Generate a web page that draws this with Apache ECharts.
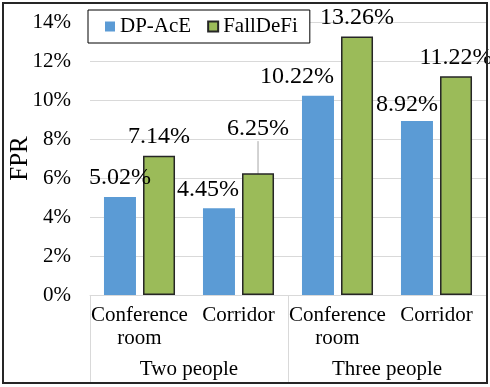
<!DOCTYPE html>
<html>
<head>
<meta charset="utf-8">
<script src="https://cdn.jsdelivr.net/npm/echarts@6/dist/echarts.min.js"></script>
<style>
  html, body { margin: 0; padding: 0; background: #fff; }
  #chartBar { width: 490px; height: 387px; }
</style>
</head>
<body>
<div id="chartBar"></div>
<script>
const categories = ['Conference\nroom', 'Corridor', 'Conference\nroom', 'Corridor']
const groups = ['Two people', 'Three people']
const dpAce = [5.02, 4.45, 10.22, 8.92]
const fallDeFi = [7.14, 6.25, 13.26, 11.22]

const font = "'Liberation Serif', 'Times New Roman', 'DejaVu Serif', serif"
const pct = (p) => p.value.toFixed(2) + '%'

const chart = echarts.init(document.getElementById('chartBar'))

// label nudges, like the hand-moved labels in the original
const dpShift = [[0, 0], [-11, 0], [-21, 0], [-10, 3]]
const fdShift = [[0, 0], [0, 0], [0, 3], [-13, 0]]

const option = {
  animation: false,
  textStyle: { fontFamily: font, color: '#000' },
  graphic: [
    {
      type: 'rect',
      shape: { x: 3, y: 3, width: 484, height: 380 },
      style: { fill: 'none', stroke: '#262626', lineWidth: 2 },
      z: 100
    }
  ],
  legend: {
    data: ['DP-AcE', 'FallDeFi'],
    left: 88,
    top: 10,
    padding: [6, 12, 6, 17],
    icon: 'rect',
    itemWidth: 10,
    itemHeight: 10,
    itemGap: 16,
    backgroundColor: '#fff',
    borderColor: '#000',
    borderWidth: 1,
    textStyle: { fontFamily: font, fontSize: 21, color: '#000' }
  },
  grid: {
    left: 90,
    right: 4,
    top: 22,
    bottom: 92,
    outerBoundsMode: 'none'
  },
  xAxis: [
    {
      type: 'category',
      data: categories,
      axisLine: { lineStyle: { color: '#d9d9d9' } },
      axisTick: { show: false },
      axisLabel: {
        interval: 0,
        margin: 9,
        fontFamily: font,
        fontSize: 21,
        lineHeight: 23,
        color: '#000'
      }
    },
    {
      type: 'category',
      position: 'bottom',
      data: groups,
      axisLine: { show: false },
      axisTick: {
        show: true,
        inside: false,
        length: 88,
        lineStyle: { color: '#d9d9d9' }
      },
      axisLabel: {
        interval: 0,
        margin: 64,
        fontFamily: font,
        fontSize: 21,
        color: '#000'
      }
    }
  ],
  yAxis: {
    type: 'value',
    min: 0,
    max: 14,
    interval: 2,
    name: 'FPR',
    nameLocation: 'middle',
    nameGap: 57,
    nameMoveOverlap: false,
    nameTextStyle: { fontFamily: font, fontSize: 25, color: '#000' },
    axisLine: { show: false },
    axisTick: { show: false },
    splitLine: { lineStyle: { color: '#d9d9d9' } },
    axisLabel: {
      margin: 19,
      fontFamily: font,
      fontSize: 21,
      color: '#000',
      formatter: '{value}%'
    }
  },
  series: [
    {
      name: 'DP-AcE',
      type: 'bar',
      barWidth: 32,
      barGap: '22%',
      itemStyle: { color: '#5b9bd5' },
      label: {
        show: true,
        position: 'top',
        distance: 7,
        fontFamily: font,
        fontSize: 24,
        color: '#000',
        formatter: pct
      },
      data: dpAce.map((v, i) => ({ value: v, label: { offset: dpShift[i] } }))
    },
    {
      name: 'FallDeFi',
      type: 'bar',
      barWidth: 32,
      itemStyle: { color: '#9bbb59', borderColor: '#262626', borderWidth: 1.5 },
      label: {
        show: true,
        position: 'top',
        distance: 7,
        fontFamily: font,
        fontSize: 24,
        color: '#000',
        formatter: pct
      },
      labelLine: { show: false },
      labelLayout: (p) => (p.dataIndex === 1 ? { dy: -25 } : {}),
      data: fallDeFi.map((v, i) =>
        i === 1
          ? { value: v, labelLine: { show: true, lineStyle: { color: '#a6a6a6', width: 1 } } }
          : { value: v, label: { offset: fdShift[i] } }
      )
    }
  ]
}

chart.setOption(option)
</script>
</body>
</html>
